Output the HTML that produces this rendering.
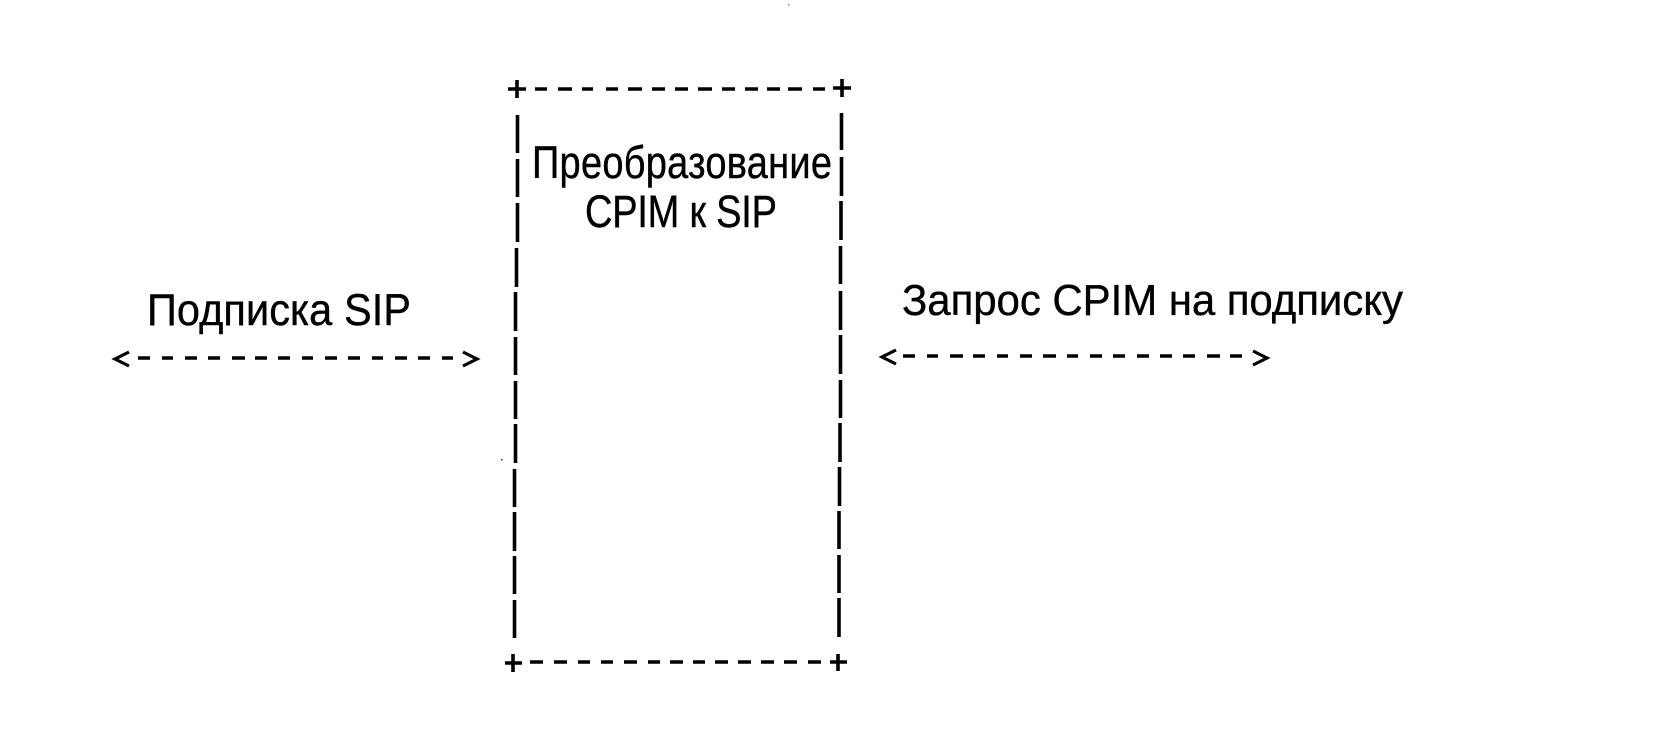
<!DOCTYPE html>
<html lang="ru"><head><meta charset="utf-8"><title>CPIM</title>
<style>html,body{margin:0;padding:0;background:#fff}svg{display:block}
text{font-family:"Liberation Sans",sans-serif;fill:#000;stroke:#000;stroke-width:.35}</style></head>
<body>
<svg width="1657" height="756" viewBox="0 0 1657 756" xmlns="http://www.w3.org/2000/svg">
<rect width="1657" height="756" fill="#fff"/>
<g fill="none" stroke="#000" stroke-width="3.6">
<path d="M535 89H547M558 89H572M582 89H593M606 89H618M628 89H642M652 89H665M675 89H688M698 89H712M722 89H735M745 89H758M767 89H780M788 89H802M813 89H825"/>
<path d="M530 662H543M554 662H567M578 662H590M601 662H613M624 662H637M648 662H660M670 662H683M693 662H705M715 662H728M738 662H751M761 662H774M784 662H797M808 662H821"/>
<path d="M138 358H150M162 358H173M185 358H197M208 358H220M232 358H245M255 358H267M278 358H290M302 358H313M325 358H337M348 358H360M372 358H383M395 358H407M418 358H430M442 358H453"/>
<path d="M903 356H915M927 356H938M950 356H963M973 356H985M997 356H1008M1020 356H1032M1043 356H1056M1067 356H1078M1090 356H1102M1113 356H1125M1137 356H1149M1160 356H1172M1183 356H1195M1207 356H1220M1230 356H1242"/>
<path d="M517.5 115V153M517.5 159V197M517.5 203V242M516.5 248V287M515.5 292V331M515.5 337V375M515.5 381V419M515.5 424V463M514.5 469V507M514.5 512V551M514.5 556V594M514.5 600V638"/>
<path d="M841.5 113V150M841.5 157V196M841 201V240M840.5 246V284M840.5 291V330M840.5 335V374M840.5 380V418M840 423V462M839.5 467V506M839 511V549M839 555V593M839 598V637"/>
<path d="M508 89H526M517 80V98M833 88H851M842 79V97M505 663H522M513 654V672M830 662H847M838 654V671"/>
<path stroke-width="3.2" d="M129 352L115 359L129 366M463 352L477 359L463 366M896 350L882 357L896 364M1253 351L1267 358L1253 365"/>
</g>
<text transform="translate(532 178) scale(1 1.2)" font-size="38" textLength="300" lengthAdjust="spacing">Преобразование</text>
<text transform="translate(585 227) scale(1 1.2)" font-size="38" textLength="192" lengthAdjust="spacing">CPIM к SIP</text>
<text transform="translate(147 325) scale(1 1.08)" font-size="41.5" textLength="264" lengthAdjust="spacing">Подписка SIP</text>
<text transform="translate(902 315) scale(1 1.03)" font-size="42" textLength="501" lengthAdjust="spacing">Запрос CPIM на подписку</text>
<rect x="501" y="459" width="1.5" height="1.5" fill="#333"/>
<rect x="788" y="4" width="1.5" height="1.5" fill="#888"/>
</svg>
</body></html>
